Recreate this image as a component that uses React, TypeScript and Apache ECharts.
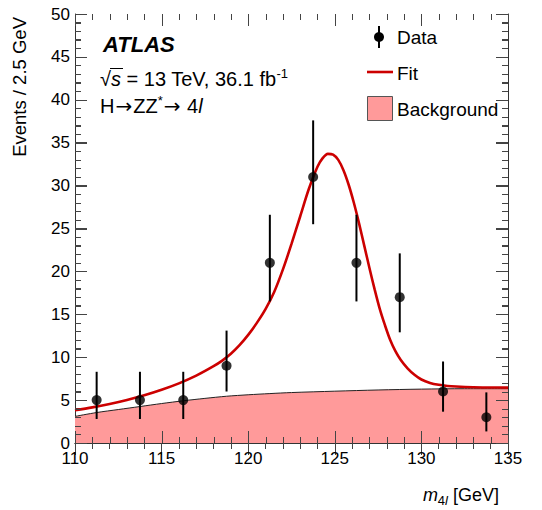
import React, { useEffect, useRef } from "react";
import * as echarts from "echarts";

// Data points (bin centres, 2.5 GeV bins)
const DATA_X = [111.25, 113.75, 116.25, 118.75, 121.25, 123.75, 126.25, 128.75, 131.25, 133.75];
const DATA_Y = [5, 5, 5, 9, 21, 31, 21, 17, 6, 3];
const ERR_LO = [2.8, 2.8, 2.8, 6.0, 16.5, 25.5, 16.5, 12.9, 3.65, 1.35];
const ERR_HI = [8.3, 8.3, 8.3, 13.1, 26.6, 37.6, 26.6, 22.1, 9.5, 5.9];

// Fit curve
const FIT_X = [110, 111, 112, 113, 114, 115, 116, 117, 118, 118.5, 119, 119.5, 120, 120.5, 121, 121.5, 122, 122.5, 123, 123.5, 124, 124.3, 124.6, 124.9, 125.2, 125.5, 125.8, 126.1, 126.4, 126.7, 127, 127.3, 127.6, 127.9, 128.2, 128.5, 128.8, 129.2, 129.6, 130, 130.5, 131, 131.5, 132, 133, 134, 135];
const FIT_Y = [3.82, 4.15, 4.55, 5.02, 5.56, 6.2, 6.95, 7.85, 8.95, 9.6, 10.4, 11.4, 12.6, 14.0, 15.6, 17.6, 20.2, 23.2, 26.4, 29.6, 32.2, 33.2, 33.7, 33.6, 33.0, 31.8, 30.1, 28.0, 25.6, 23.0, 20.4, 17.9, 15.6, 13.7, 12.0, 10.7, 9.7, 8.7, 7.95, 7.4, 7.0, 6.78, 6.65, 6.58, 6.5, 6.47, 6.45];

// Background curve
const BG_X = [110, 111.25, 112.5, 113.75, 115, 116.25, 117.5, 118.75, 120, 121.25, 122.5, 125, 127.5, 130, 132.5, 135];
const BG_Y = [3.1, 3.55, 3.9, 4.25, 4.6, 4.92, 5.2, 5.45, 5.62, 5.76, 5.88, 6.04, 6.18, 6.28, 6.33, 6.33];

// Axis ranges / ticks
const X_MIN = 110, X_MAX = 135, X_STEP = 5, X_MINOR = 1;
const Y_MIN = 0, Y_MAX = 50, Y_STEP = 5, Y_MINOR = 1;

const LEGEND_LABELS = ["Data", "Fit", "Background"];

const FONT = "'Liberation Sans', Arial, Helvetica, sans-serif";
const ARROW_FONT = "'DejaVu Sans', 'Liberation Sans', sans-serif";
const RED = "#cc0000";
const PINK = "#ff9a9a";
const AXIS_COLOR = "#333";
const TICK_COLOR = "#444";
const MAJOR_LEN = 12;
const MINOR_LEN = 6;

function makeAxis(min: number, max: number, step: number, position: string, labels: boolean, margin: number) {
  return {
    type: "value",
    min,
    max,
    interval: step,
    position,
    axisLine: { show: true, lineStyle: { color: AXIS_COLOR } },
    axisTick: { show: true, inside: true, length: MAJOR_LEN, lineStyle: { color: TICK_COLOR } },
    minorTick: { show: true, splitNumber: 5, length: MINOR_LEN, lineStyle: { color: TICK_COLOR } },
    splitLine: { show: false },
    axisLabel: labels
      ? { show: true, fontSize: 17, color: "#000", fontFamily: FONT, margin }
      : { show: false },
  };
}

// items: [a, b, c, kind]; kind 0 = error bar [x, lo, hi], 1 = x tick [v, len], 2 = y tick [v, len]
function buildMarks() {
  const out: number[][] = DATA_X.map((x, i) => [x, ERR_LO[i], ERR_HI[i], 0]);
  for (let v = X_MIN; v <= X_MAX + 1e-9; v += X_MINOR) {
    const major = Math.abs((v - X_MIN) % X_STEP) < 1e-6;
    out.push([v, major ? MAJOR_LEN : MINOR_LEN, 0, 1]);
  }
  for (let v = Y_MIN; v <= Y_MAX + 1e-9; v += Y_MINOR) {
    const major = Math.abs((v - Y_MIN) % Y_STEP) < 1e-6;
    out.push([v, major ? MAJOR_LEN : MINOR_LEN, 0, 2]);
  }
  return out;
}

export default function App() {
  const ref = useRef<HTMLDivElement>(null);

  useEffect(() => {
    document.body.style.margin = "0";
    const chart = echarts.init(ref.current!, null, { renderer: "svg" });

    const fitData = FIT_X.map((x, i) => [x, FIT_Y[i]]);
    const bgData = BG_X.map((x, i) => [x, BG_Y[i]]);
    const pts = DATA_X.map((x, i) => [x, DATA_Y[i]]);

    const sup = { fontSize: 13, fontFamily: FONT, lineHeight: 13, verticalAlign: "top" };
    const norm = { fontSize: 20, fontFamily: FONT, lineHeight: 25, verticalAlign: "middle" };
    const ital = { fontSize: 20, fontStyle: "italic", fontFamily: FONT, lineHeight: 25, verticalAlign: "middle" };
    const arrow = { fontSize: 20, fontFamily: ARROW_FONT, lineHeight: 25, verticalAlign: "middle", padding: [0, 1, 0, 1] };

    const option: any = {
      animation: false,
      backgroundColor: "#fff",
      textStyle: { fontFamily: FONT },
      grid: { left: 75, right: 34, top: 14, bottom: 67 },
      xAxis: [
        makeAxis(X_MIN, X_MAX, X_STEP, "bottom", true, 7),
        makeAxis(X_MIN, X_MAX, X_STEP, "top", false, 0),
      ],
      yAxis: [
        makeAxis(Y_MIN, Y_MAX, Y_STEP, "left", true, 5),
        makeAxis(Y_MIN, Y_MAX, Y_STEP, "right", false, 0),
      ],
      series: [
        {
          name: LEGEND_LABELS[2],
          type: "line",
          data: bgData,
          smooth: 0.3,
          symbol: "none",
          lineStyle: { color: "#222", width: 1 },
          areaStyle: { color: PINK, opacity: 1 },
          z: 1,
        },
        {
          name: LEGEND_LABELS[1],
          type: "line",
          data: fitData,
          smooth: 0.3,
          symbol: "none",
          lineStyle: { color: RED, width: 2.6 },
          z: 3,
        },
        {
          name: "marks",
          type: "custom",
          data: buildMarks(),
          encode: { x: 0, y: [1, 2] },
          clip: false,
          renderItem: (params: any, api: any) => {
            const a = api.value(0);
            const b = api.value(1);
            const c = api.value(2);
            const kind = api.value(3);
            if (kind === 0) {
              const p1 = api.coord([a, b]);
              const p2 = api.coord([a, c]);
              return {
                type: "line",
                shape: { x1: p1[0], y1: p1[1], x2: p2[0], y2: p2[1] },
                style: { stroke: "#000", lineWidth: 2 },
              };
            }
            const bl = api.coord([X_MIN, Y_MIN]);
            const tr = api.coord([X_MAX, Y_MAX]);
            const left = bl[0], bottom = bl[1], right = tr[0], top = tr[1];
            if (kind === 1) {
              const px = Math.round(api.coord([a, Y_MIN])[0]) + 0.5;
              return {
                type: "group",
                children: [
                  { type: "line", shape: { x1: px, y1: bottom, x2: px, y2: bottom - b }, style: { stroke: TICK_COLOR, lineWidth: 1 } },
                  { type: "line", shape: { x1: px, y1: top, x2: px, y2: top + b }, style: { stroke: TICK_COLOR, lineWidth: 1 } },
                ],
              };
            }
            const py = Math.round(api.coord([X_MIN, a])[1]) + 0.5;
            return {
              type: "group",
              children: [
                { type: "line", shape: { x1: left, y1: py, x2: left + b, y2: py }, style: { stroke: TICK_COLOR, lineWidth: 1 } },
                { type: "line", shape: { x1: right, y1: py, x2: right - b, y2: py }, style: { stroke: TICK_COLOR, lineWidth: 1 } },
              ],
            };
          },
          z: 8,
        },
        {
          name: LEGEND_LABELS[0],
          type: "scatter",
          data: pts,
          symbol: "circle",
          symbolSize: 10,
          itemStyle: { color: "#000" },
          z: 9,
        },
      ],
      graphic: [
        {
          type: "text",
          x: 19,
          y: 17,
          rotation: Math.PI / 2,
          style: {
            text: "Events / 2.5 GeV",
            fontSize: 18.5,
            fontFamily: FONT,
            fill: "#000",
            align: "right",
            verticalAlign: "middle",
          },
        },
        {
          type: "text",
          x: 499,
          y: 495,
          style: {
            text: "{i|m}{s|4}{si|l}{n| [GeV]}",
            align: "right",
            verticalAlign: "middle",
            fontFamily: FONT,
            fill: "#000",
            rich: {
              i: { fontSize: 18, fontStyle: "italic", fontFamily: FONT, lineHeight: 24, verticalAlign: "middle" },
              s: { fontSize: 13, fontFamily: FONT, lineHeight: 13, verticalAlign: "bottom" },
              si: { fontSize: 13, fontStyle: "italic", fontFamily: FONT, lineHeight: 13, verticalAlign: "bottom" },
              n: { fontSize: 18, fontFamily: FONT, lineHeight: 24, verticalAlign: "middle" },
            },
          },
        },
        {
          type: "text",
          x: 103,
          y: 44,
          style: {
            text: "ATLAS",
            fontSize: 22,
            fontWeight: "bold",
            fontStyle: "italic",
            fontFamily: FONT,
            fill: "#000",
            verticalAlign: "middle",
          },
        },
        {
          type: "text",
          x: 100,
          y: 79,
          style: {
            text: "{n|√}{i|s}{n| = 13 TeV, 36.1 fb}{u|-1}",
            verticalAlign: "middle",
            fontFamily: FONT,
            fill: "#000",
            rich: { n: norm, i: ital, u: sup },
          },
        },
        {
          type: "line",
          shape: { x1: 110, y1: 68.5, x2: 123, y2: 68.5 },
          style: { stroke: "#000", lineWidth: 1 },
        },
        {
          type: "text",
          x: 100,
          y: 106,
          style: {
            text: "{n|H}{a|→}{n|ZZ}{u|*}{a|→}{n| 4}{i|l}",
            verticalAlign: "middle",
            fontFamily: FONT,
            fill: "#000",
            rich: { n: norm, i: ital, u: sup, a: arrow },
          },
        },
        {
          type: "line",
          shape: { x1: 379, y1: 26, x2: 379, y2: 48 },
          style: { stroke: "#000", lineWidth: 2 },
        },
        {
          type: "circle",
          shape: { cx: 379, cy: 37, r: 5 },
          style: { fill: "#000" },
        },
        {
          type: "text",
          x: 397,
          y: 37,
          style: { text: LEGEND_LABELS[0], fontSize: 19, fontFamily: FONT, fill: "#000", verticalAlign: "middle" },
        },
        {
          type: "line",
          shape: { x1: 367, y1: 72, x2: 393, y2: 72 },
          style: { stroke: RED, lineWidth: 2.6 },
        },
        {
          type: "text",
          x: 397,
          y: 73,
          style: { text: LEGEND_LABELS[1], fontSize: 19, fontFamily: FONT, fill: "#000", verticalAlign: "middle" },
        },
        {
          type: "rect",
          shape: { x: 367.5, y: 96.5, width: 25, height: 24 },
          style: { fill: PINK, stroke: "#555", lineWidth: 1 },
        },
        {
          type: "text",
          x: 397,
          y: 109,
          style: { text: LEGEND_LABELS[2], fontSize: 19, fontFamily: FONT, fill: "#000", verticalAlign: "middle" },
        },
      ],
    };

    chart.setOption(option);
    return () => chart.dispose();
  }, []);

  return <div ref={ref} style={{ width: 542, height: 510 }} />;
}
